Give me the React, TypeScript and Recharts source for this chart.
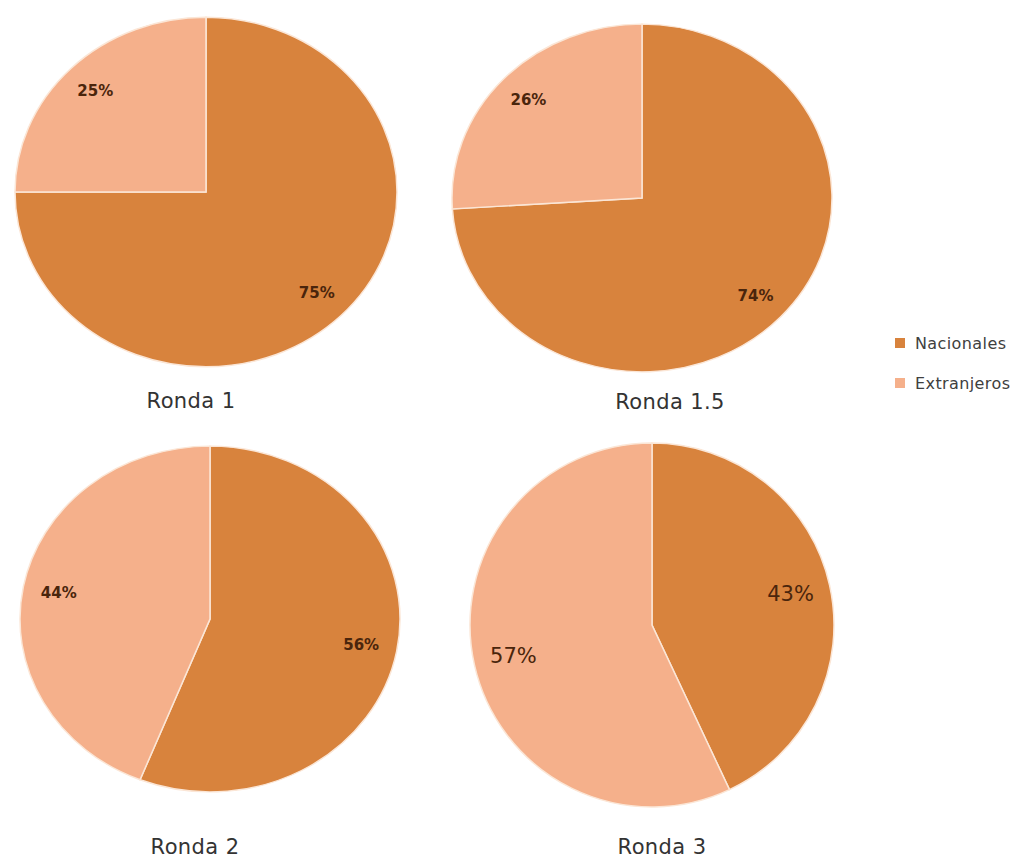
import React from 'react';
import { PieChart, Pie, Cell, Legend, Sector } from 'recharts';

const categories = ['Nacionales', 'Extranjeros'];
const colors = ['#D8833D', '#F5B08B'];
const rounds = ['Ronda 1', 'Ronda 1.5', 'Ronda 2', 'Ronda 3'];
const nacionales = [75, 74, 56, 43];
const extranjeros = [25, 26, 44, 57];

// geometry of each pie: centre, horizontal radius, vertical squash, title centre, label style
const layout = [
  { cx: 206, cy: 192, rx: 191, sy: 0.915, tx: 191, ty: 402, fs: 15, fw: 700, lr: 0.82 },
  { cx: 642, cy: 198, rx: 190, sy: 0.915, tx: 670, ty: 403, fs: 15, fw: 700, lr: 0.82 },
  { cx: 210, cy: 619, rx: 190, sy: 0.91, tx: 195, ty: 848, fs: 15, fw: 700, lr: 0.81 },
  { cx: 652, cy: 625, rx: 182, sy: 1, tx: 662, ty: 848, fs: 21, fw: 400, lr: 0.78 },
];

const RAD = Math.PI / 180;
const FONT = 'DejaVu Sans, Verdana, sans-serif';

const makeShape = (cy: number, s: number) => (props: any) => (
  <Sector {...props} transform={`translate(0 ${cy * (1 - s)}) scale(1 ${s})`} />
);

const makeLabel = (fs: number, fw: number, s: number, lr: number) => (props: any) => {
  const { cx, cy, midAngle, outerRadius, value } = props;
  const r = outerRadius * lr;
  const x = cx + r * Math.cos(-midAngle * RAD);
  const y = cy + r * Math.sin(-midAngle * RAD) * s;
  return (
    <text
      x={x}
      y={y}
      textAnchor="middle"
      dominantBaseline="central"
      fill="#4a250c"
      fontSize={fs}
      fontWeight={fw}
      fontFamily={FONT}
    >
      {`${value}%`}
    </text>
  );
};

const LegendContent = () => (
  <div style={{ fontFamily: FONT, fontSize: 16, letterSpacing: 0.4, color: '#404040' }}>
    {categories.map((c, i) => (
      <div key={c} style={{ display: 'flex', alignItems: 'center', height: 40 }}>
        <span style={{ display: 'inline-block', width: 10, height: 10, background: colors[i], marginRight: 10 }} />
        <span>{c}</span>
      </div>
    ))}
  </div>
);

export default function App() {
  return (
    <div style={{ position: 'absolute', left: 0, top: 0, width: 1023, height: 859, background: '#fff' }}>
      <PieChart width={1023} height={859} margin={{ top: 0, right: 0, bottom: 0, left: 0 }}>
        {rounds.map((rd, k) => {
          const data = [
            { name: categories[0], value: nacionales[k] },
            { name: categories[1], value: extranjeros[k] },
          ];
          const L = layout[k];
          return (
            <Pie
              key={rd}
              data={data}
              dataKey="value"
              nameKey="name"
              cx={L.cx}
              cy={L.cy}
              outerRadius={L.rx}
              startAngle={90}
              endAngle={-270}
              stroke="#fbe6d6"
              strokeWidth={1.5}
              shape={makeShape(L.cy, L.sy)}
              label={makeLabel(L.fs, L.fw, L.sy, L.lr)}
              labelLine={false}
              isAnimationActive={false}
            >
              {data.map((d, i) => (
                <Cell key={d.name} fill={colors[i]} />
              ))}
            </Pie>
          );
        })}
        <Legend
          layout="vertical"
          align="right"
          verticalAlign="top"
          content={<LegendContent />}
          wrapperStyle={{ left: 895, top: 323, width: 128 }}
        />
      </PieChart>
      {rounds.map((rd, k) => (
        <div
          key={rd}
          style={{
            position: 'absolute',
            left: layout[k].tx - 100,
            top: layout[k].ty - 13,
            width: 200,
            textAlign: 'center',
            fontFamily: FONT,
            fontSize: 21,
            letterSpacing: 0.4,
            color: '#333',
          }}
        >
          {rd}
        </div>
      ))}
    </div>
  );
}
